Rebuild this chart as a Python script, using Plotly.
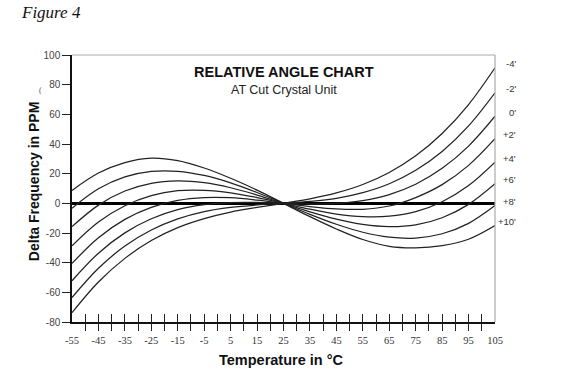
import plotly.graph_objects as go

# Temperature (°C) sample points
temps = [-55, -45, -35, -25, -15, -5, 5, 15, 25, 35, 45, 55, 65, 75, 85, 95, 105]

# Delta frequency (ppm) for each relative angle curve
curve_m4 = [-73.7, -53.0, -37.1, -25.1, -16.4, -10.3, -5.9, -2.8, 0, 3.0, 7.0, 12.7, 20.8, 32.0, 47.1, 66.6, 91.4]
curve_m2 = [-63.5, -43.8, -28.8, -18.0, -10.5, -5.6, -2.8, -1.1, 0, 1.3, 3.4, 7.2, 13.2, 22.3, 35.0, 52.2, 74.5]
curve_0 = [-52.2, -33.6, -19.9, -10.4, -4.3, -0.9, 0.5, 0.6, 0, -0.5, -0.1, 1.8, 5.9, 12.9, 23.6, 38.6, 58.7]
curve_p2 = [-40.5, -23.2, -10.8, -2.7, 2.0, 3.9, 3.8, 2.2, 0, -2.2, -3.8, -4.0, -1.8, 3.9, 12.6, 25.6, 43.6]
curve_p4 = [-28.6, -12.6, -1.6, 5.2, 8.5, 8.8, 7.1, 3.9, 0, -3.9, -7.2, -9.0, -8.7, -5.6, 1.1, 12.0, 27.8]
curve_p6 = [-15.7, -1.2, 8.3, 13.5, 15.1, 13.9, 10.5, 5.6, 0, -5.7, -10.6, -14.2, -15.7, -14.5, -9.7, -0.7, 13.2]
curve_p8 = [-3.3, 9.8, 17.8, 21.5, 21.6, 18.8, 13.8, 7.3, 0, -7.4, -14.1, -19.5, -22.8, -23.4, -20.5, -13.5, -1.5]
curve_p10 = [8.7, 20.4, 27.5, 30.5, 28.8, 23.8, 16.9, 8.9, 0, -9.0, -17.3, -24.4, -29.0, -30.0, -28.5, -24.2, -15.0]

angle_labels = ["-4'", "-2'", "0'", "+2'", "+4'", "+6'", "+8'", "+10'"]
curves = [curve_m4, curve_m2, curve_0, curve_p2, curve_p4, curve_p6, curve_p8, curve_p10]

x_label_vals = [-55, -45, -35, -25, -15, -5, 5, 15, 25, 35, 45, 55, 65, 75, 85, 95, 105]
x_label_text = ["-55", "-45", "-35", "-25", "-15", "-5", "5", "15", "25", "35", "45",
                "55", "65", "75", "85", "95", "105"]
x_mark_vals = list(range(-50, 101, 5))
y_tick_vals = [-80, -60, -40, -20, 0, 20, 40, 60, 80, 100]
y_tick_text = ["-80", "-60", "-40", "-20", "0", "20", "40", "60", "80", "100"]

fig = go.Figure()
for lbl, vals in zip(angle_labels, curves):
    fig.add_trace(go.Scatter(
        x=temps, y=vals, mode="lines", name=lbl, showlegend=False, hoverinfo="skip",
        line=dict(color="#222", width=1.25, shape="spline", smoothing=1.0)))

# helper empty traces so the tick-mark overlay axes are drawn
for ax in ["x2", "x3"]:
    fig.add_trace(go.Scatter(x=[None], y=[None], xaxis=ax, yaxis="y",
                             showlegend=False, hoverinfo="skip", mode="lines"))

sans = "Liberation Sans, Arial, sans-serif"
serif = "Liberation Serif, Times New Roman, serif"

fig.update_layout(
    width=580, height=370, autosize=False,
    margin=dict(l=72, r=85, t=55, b=48, pad=0),
    paper_bgcolor="white", plot_bgcolor="white",
    xaxis=dict(range=[-55, 105], tickmode="array", tickvals=x_label_vals, ticktext=x_label_text,
               ticks="outside", ticklen=8, tickcolor="rgba(0,0,0,0)",
               showline=True, linecolor="#111", linewidth=1.5,
               showgrid=False, zeroline=False,
               tickfont=dict(family=serif, size=10.5, color="#333")),
    xaxis2=dict(range=[-55, 105], overlaying="x", anchor="y", side="bottom",
                tickmode="array", tickvals=x_mark_vals, ticks="outside", ticklen=8,
                tickcolor="#222", tickwidth=1.3, showticklabels=False,
                showgrid=False, zeroline=False, showline=False),
    xaxis3=dict(range=[-55, 105], overlaying="x", anchor="y", side="bottom",
                tickmode="array", tickvals=x_mark_vals, ticks="inside", ticklen=8,
                tickcolor="#222", tickwidth=1.3, showticklabels=False,
                showgrid=False, zeroline=False, showline=False),
    yaxis=dict(range=[-80, 100], tickmode="array", tickvals=y_tick_vals, ticktext=y_tick_text,
               ticks="outside", ticklen=8, tickcolor="#222", tickwidth=1.2,
               showline=True, linecolor="#111", linewidth=1.5,
               showgrid=False, zeroline=True, zerolinecolor="#000", zerolinewidth=2.5,
               tickfont=dict(family=sans, size=10, color="#444")),
    shapes=[
        dict(type="line", xref="paper", yref="paper", x0=0, x1=1, y0=1, y1=1,
             line=dict(color="#aaa", width=1.2)),
        dict(type="line", xref="paper", yref="paper", x0=1, x1=1, y0=0, y1=1,
             line=dict(color="#aaa", width=1.2)),
    ],
)

annotations = [
    dict(text="<i>Figure 4</i>", xref="paper", yref="paper", x=(19 - 72) / 423, y=(321.7 - 13) / 266.7,
         xanchor="left", yanchor="middle", showarrow=False,
         font=dict(family=serif, size=17, color="#111")),
    dict(text="(", xref="paper", yref="paper", x=(40 - 72) / 423, y=(321.7 - 90) / 266.7,
         xanchor="center", yanchor="middle", showarrow=False,
         font=dict(family=serif, size=8, color="#555")),
    dict(text="<b>RELATIVE ANGLE CHART</b>", xref="paper", yref="paper", x=0.501, y=(321.7 - 71.7) / 266.7,
         xanchor="center", yanchor="middle", showarrow=False,
         font=dict(family=sans, size=14.5, color="#111")),
    dict(text="AT Cut Crystal Unit", xref="paper", yref="paper", x=0.501, y=(321.7 - 90) / 266.7,
         xanchor="center", yanchor="middle", showarrow=False,
         font=dict(family=sans, size=12.5, color="#222")),
    dict(text="<b>Delta Frequency in PPM</b>", xref="paper", yref="paper", x=(34 - 72) / 423,
         y=(321.7 - 182) / 266.7,
         xanchor="center", yanchor="middle", textangle=-90, showarrow=False,
         font=dict(family=sans, size=14, color="#111")),
    dict(text="<b>Temperature in °C</b>", xref="paper", yref="paper", x=0.495, y=(321.7 - 360) / 266.7,
         xanchor="center", yanchor="middle", showarrow=False,
         font=dict(family=sans, size=14.5, color="#111")),
]
for lbl, vals in zip(angle_labels, curves):
    annotations.append(dict(text=lbl, xref="paper", yref="y", x=(518 - 72) / 423, y=vals[-1],
                            xanchor="right", yanchor="middle", yshift=4, showarrow=False,
                            font=dict(family=sans, size=9.5, color="#333")))
fig.update_layout(annotations=annotations)

fig.write_html("out.html", config={"displayModeBar": False},
               post_script="document.body.style.margin='0';")
